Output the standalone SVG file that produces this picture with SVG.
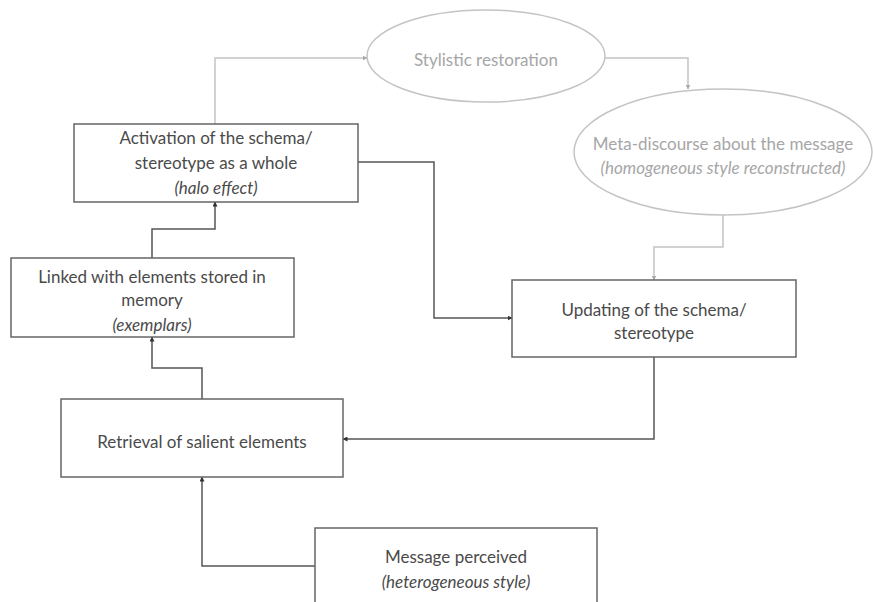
<svg xmlns="http://www.w3.org/2000/svg" width="873" height="602" viewBox="0 0 873 602">
<style>
.box{fill:#fff;stroke:#666;stroke-width:1.5}
.ell{fill:#fff;stroke:#c4c4c4;stroke-width:1.5}
.t{font-family:Lato,"Open Sans",sans-serif;font-size:17px;fill:#4a4a4a;text-anchor:middle}
.g{fill:#a6a6a6}
.i{font-style:italic}
.dk{fill:none;stroke:#555;stroke-width:1.5}
.lt{fill:none;stroke:#c4c4c4;stroke-width:1.5}
</style>
<defs>
<marker id="ad" viewBox="0 0 10 10" refX="9" refY="5" markerWidth="5" markerHeight="5" orient="auto" markerUnits="userSpaceOnUse"><path d="M0,0L10,5L0,10z" fill="#333"/></marker>
<marker id="al" viewBox="0 0 10 10" refX="9" refY="5" markerWidth="5" markerHeight="5" orient="auto" markerUnits="userSpaceOnUse"><path d="M0,0L10,5L0,10z" fill="#aaa"/></marker>
</defs>
<g id="connectors">
<path class="lt" d="M215,124V58H367" marker-end="url(#al)"/>
<path class="lt" d="M605,58H688V89" marker-end="url(#al)"/>
<path class="lt" d="M723,215V247H654V280" marker-end="url(#al)"/>
<path class="dk" d="M358,162H434V318H512" marker-end="url(#ad)"/>
<path class="dk" d="M654,357V439H343" marker-end="url(#ad)"/>
<path class="dk" d="M315,566H202V477" marker-end="url(#ad)"/>
<path class="dk" d="M202,399V368H152V337" marker-end="url(#ad)"/>
<path class="dk" d="M152,258V229H215V202" marker-end="url(#ad)"/>
</g>
<g id="stylistic">
<ellipse class="ell" cx="486" cy="56" rx="119" ry="46"/>
<text class="t g" x="486" y="66">Stylistic restoration</text>
</g>
<g id="meta">
<ellipse class="ell" cx="723" cy="152" rx="149" ry="63"/>
<text class="t g" x="723" y="150">Meta-discourse about the message</text>
<text class="t g i" x="723" y="174">(homogeneous style reconstructed)</text>
</g>
<g id="activation">
<rect class="box" x="74" y="124" width="284" height="78"/>
<text class="t" x="216" y="144">Activation of the schema/</text>
<text class="t" x="216" y="169">stereotype as a whole</text>
<text class="t i" x="216" y="194">(halo effect)</text>
</g>
<g id="linked">
<rect class="box" x="11" y="258" width="283" height="79"/>
<text class="t" x="152" y="283">Linked with elements stored in</text>
<text class="t" x="152" y="306">memory</text>
<text class="t i" x="152" y="331">(exemplars)</text>
</g>
<g id="updating">
<rect class="box" x="512" y="280" width="284" height="77"/>
<text class="t" x="654" y="316">Updating of the schema/</text>
<text class="t" x="654" y="339">stereotype</text>
</g>
<g id="retrieval">
<rect class="box" x="61" y="399" width="282" height="78"/>
<text class="t" x="202" y="448">Retrieval of salient elements</text>
</g>
<g id="message">
<rect class="box" x="315" y="528" width="282" height="90"/>
<text class="t" x="456" y="563">Message perceived</text>
<text class="t i" x="456" y="588">(heterogeneous style)</text>
</g>
</svg>
